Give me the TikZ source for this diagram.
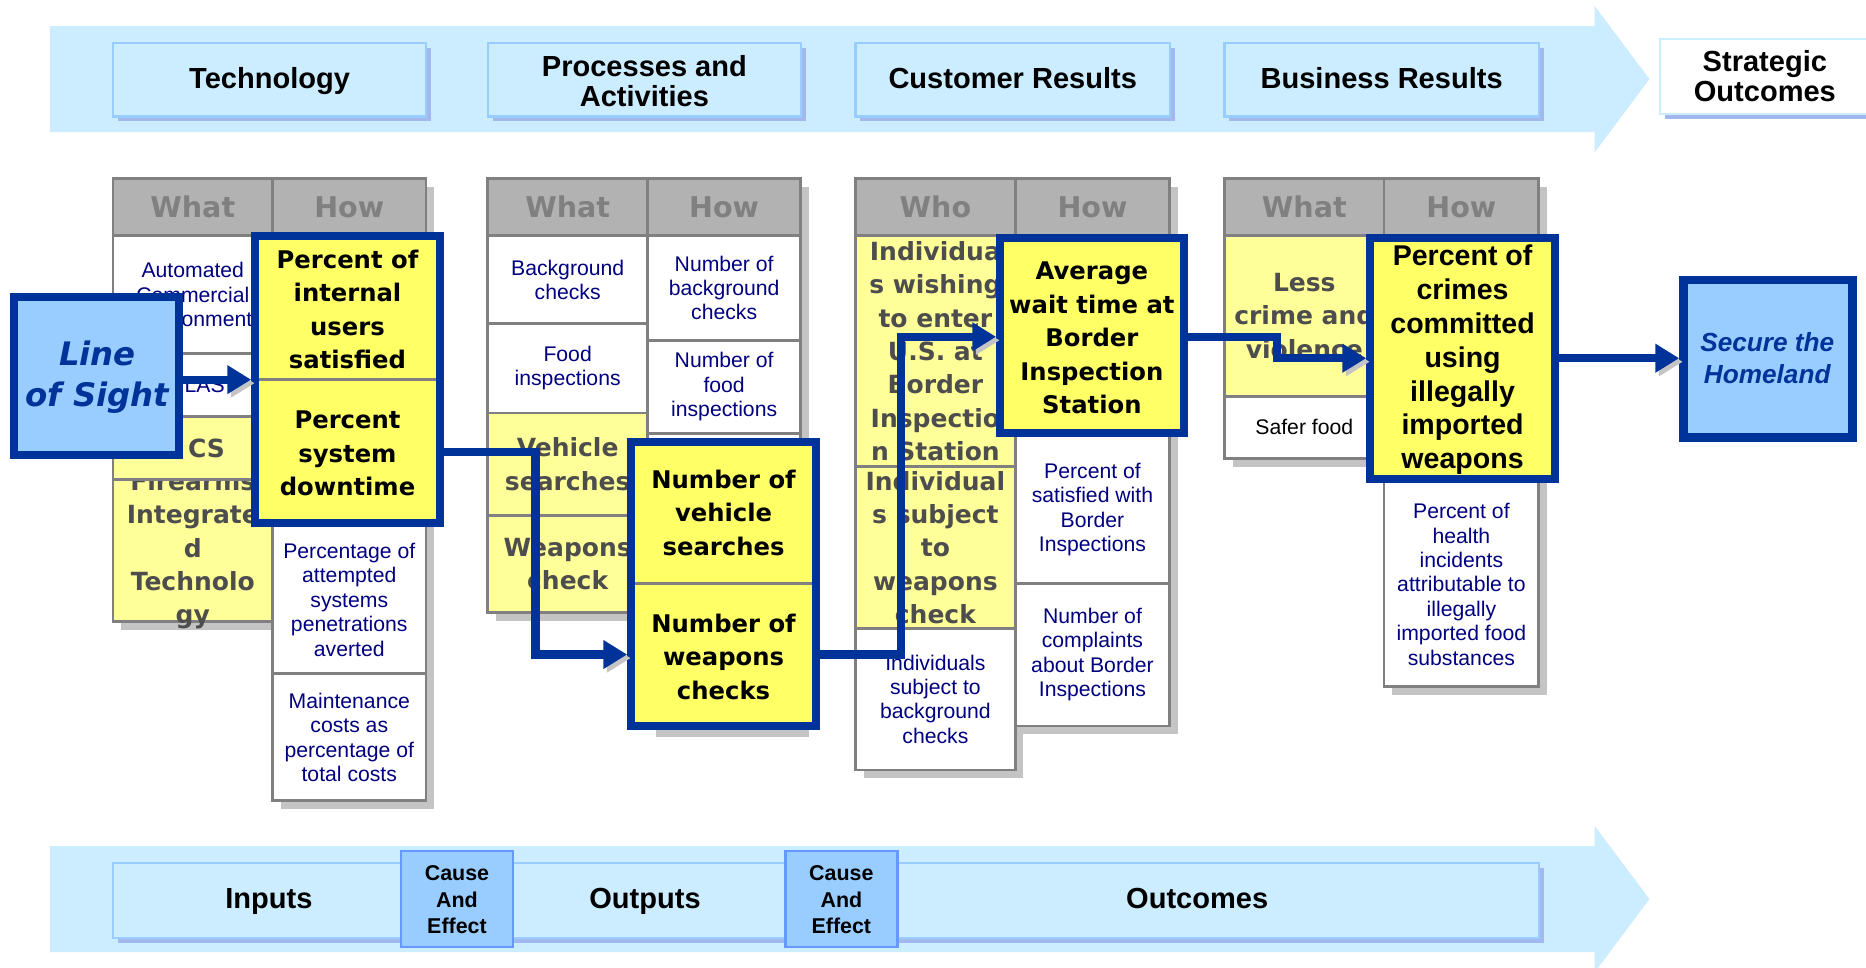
\documentclass[tikz,border=0pt]{standalone}
\usepackage{fontspec}
\setmainfont{Liberation Sans}
\newfontfamily\dv{DejaVu Sans}[BoldFont={DejaVu Sans Bold},BoldItalicFont={DejaVu Sans Bold Oblique},ItalicFont={DejaVu Sans Oblique}]
\usetikzlibrary{arrows.meta,calc,fit}
\definecolor{band}{HTML}{CCECFF}
\definecolor{bandline}{HTML}{99CCFF}
\definecolor{bandshadow}{HTML}{A3B8EE}
\definecolor{causefill}{HTML}{99CCFF}
\definecolor{causeline}{HTML}{6699FF}
\definecolor{grid}{HTML}{808080}
\definecolor{hdr}{HTML}{B2B2B2}
\definecolor{hdrtext}{HTML}{808080}
\definecolor{lightyel}{HTML}{FFFF99}
\definecolor{hiyel}{HTML}{FFFF66}
\definecolor{dblue}{HTML}{003399}
\definecolor{navy}{HTML}{000080}
\definecolor{graytext}{HTML}{4D4D4D}
\definecolor{shadowc}{HTML}{C4C4C4}
\definecolor{losfill}{HTML}{99CCFF}
\tikzset{
 smalltxt/.style={font=\fontsize{8.9}{10.25}\selectfont, text=navy, align=center, inner sep=0pt},
 bigtxt/.style={font=\dv\bfseries\fontsize{10.5}{14}\selectfont, text=graytext, align=center, inner sep=0pt},
 hltxt/.style={font=\dv\bfseries\fontsize{10.2}{14.1}\selectfont, align=center, inner sep=0pt},
 hdrtxt/.style={font=\dv\bfseries\fontsize{12}{14}\selectfont, text=hdrtext, inner sep=0pt},
 bandtxt/.style={font=\bfseries\fontsize{12.2}{12.6}\selectfont, align=center, inner sep=0pt},
 bandone/.style={font=\bfseries\fontsize{12.2}{12.6}\selectfont, inner sep=0pt, text height=8.8pt, text depth=2.6pt},
 causetxt/.style={font=\bfseries\fontsize{9}{11}\selectfont, align=center, inner sep=0pt},
 hl/.style={draw=dblue, line width=3.25pt, fill=hiyel, inner sep=0pt},
 bluebox/.style={draw=dblue, line width=3.5pt, fill=losfill, inner sep=0pt},
 conn/.style={draw=dblue, line width=3.4pt, -{Triangle[length=10pt,width=11.5pt]},
   preaction={draw=shadowc, transform canvas={shift={(1.5pt,-1.5pt)}}}},
 splitline/.style={draw=grid, line width=1.2pt},
 cellbox/.style={draw=grid, line width=1.2pt},
}
% cell: name, corner1, corner2, fill, text style, text
\newcommand{\mycell}[6]{%
  \path[cellbox,fill=#4] #2 rectangle #3;
  \node[#5] (#1) at ($#2!0.5!#3$) {#6};}
% band header box: name, x1,y1,x2,y2, text style, text
\newcommand{\bandbox}[7]{%
  \fill[bandshadow] ($(#2,#3)+(4,4)$) rectangle ($(#4,#5)+(4,4)$);
  \path[draw=bandline,line width=1pt,fill=band] (#2,#3) rectangle (#4,#5);
  \node[#6] (#1) at ($(#2,#3)!0.5!(#4,#5)+(0,1)$) {#7};}
\begin{document}
\begin{tikzpicture}[x=0.5pt,y=-0.5pt]
\useasboundingbox (0,0) rectangle (1568,813);
\fill[white] (0,0) rectangle (1568,813);
% ===== top band =====
\fill[band] (42,22) -- (1340,22) -- (1340,5) -- (1386,66.5) -- (1340,128) -- (1340,111) -- (42,111) -- cycle;
\bandbox{tech}{95}{36}{358}{98}{bandone}{Technology}
\bandbox{proc}{410}{36}{673}{98}{bandtxt}{Processes and\\Activities}
\bandbox{cust}{719}{36}{983}{98}{bandone}{Customer Results}
\bandbox{bus}{1029}{36}{1293}{98}{bandone}{Business Results}
\fill[bandshadow] (1399,37) rectangle (1600,100);
\path[draw=band,line width=1pt,fill=white] (1395,33) rectangle (1600,96);
\node[bandtxt] (strat) at (1483,64) {Strategic\\Outcomes};
% ===== bottom band =====
\fill[band] (42,711) -- (1340,711) -- (1340,694) -- (1386,755.5) -- (1340,817) -- (1340,800) -- (42,800) -- cycle;
\fill[bandshadow] (99,729) rectangle (1297,792);
\path[draw=bandline,line width=1pt,fill=band] (95,725) rectangle (1293,788);
\node[bandone] (inputs) at (226,757) {Inputs};
\node[bandone] (outputs) at (542,757) {Outputs};
\node[bandone] (outcomes) at (1006,757) {Outcomes};
\path[draw=causeline,line width=1pt,fill=causefill] (337,715) rectangle (431,796);
\node[causetxt] (cause1) at (384,756) {Cause\\And\\Effect};
\path[draw=causeline,line width=1pt,fill=causefill] (660,715) rectangle (754,796);
\node[causetxt] (cause2) at (707,756) {Cause\\And\\Effect};
% ===== table 1 =====
\fill[shadowc] (102,157) rectangle (236,529);
\fill[shadowc] (236,157) rectangle (365,680);
\mycell{t1w4}{(95,403)}{(229,522)}{lightyel}{bigtxt}{Firearms\\Integrate\\d\\Technolo\\gy}
\mycell{t1w3}{(95,350)}{(229,403)}{lightyel}{bigtxt,xshift=5.75pt}{CS}
\mycell{t1w2}{(95,297)}{(229,350)}{white}{smalltxt,xshift=5pt}{LAS}
\mycell{t1w1}{(95,198)}{(229,297)}{white}{smalltxt}{Automated\\Commercial\\Environment}
\mycell{t1h3}{(229,566)}{(358,673)}{white}{smalltxt}{Maintenance\\costs as\\percentage of\\total costs}
\mycell{t1h2}{(229,442)}{(358,566)}{white}{smalltxt}{Percentage of\\attempted\\systems\\penetrations\\averted}
\mycell{t1h1}{(229,198)}{(358,442)}{white}{}{}
\mycell{t1hw}{(95,150)}{(229,198)}{hdr}{hdrtxt}{What}
\mycell{t1hh}{(229,150)}{(358,198)}{hdr}{hdrtxt}{How}
% ===== table 2 =====
\fill[shadowc] (417,157) rectangle (551,522);
\fill[shadowc] (551,157) rectangle (680,619);
\mycell{t2w4}{(410,433)}{(544,515)}{lightyel}{bigtxt}{Weapons\\check}
\mycell{t2w3}{(410,347)}{(544,433)}{lightyel}{bigtxt}{Vehicle\\searches}
\mycell{t2w2}{(410,272)}{(544,347)}{white}{smalltxt}{Food\\inspections}
\mycell{t2w1}{(410,198)}{(544,272)}{white}{smalltxt}{Background\\checks}
\mycell{t2h3}{(544,364)}{(673,612)}{white}{}{}
\mycell{t2h2}{(544,286)}{(673,364)}{white}{smalltxt}{Number of\\food\\inspections}
\mycell{t2h1}{(544,198)}{(673,286)}{white}{smalltxt}{Number of\\background\\checks}
\mycell{t2hw}{(410,150)}{(544,198)}{hdr}{hdrtxt}{What}
\mycell{t2hh}{(544,150)}{(673,198)}{hdr}{hdrtxt}{How}
% ===== table 3 =====
\fill[shadowc] (726,157) rectangle (860,654);
\fill[shadowc] (860,157) rectangle (990,617);
\mycell{t3w3}{(719,528)}{(853,647)}{white}{smalltxt}{Individuals\\subject to\\background\\checks}
\mycell{t3w2}{(719,392)}{(853,528)}{lightyel}{bigtxt}{Individual\\s subject\\to\\weapons\\check}
\mycell{t3w1}{(719,198)}{(853,392)}{lightyel}{bigtxt}{Individua\\s wishing\\to enter\\U.S. at\\Border\\Inspectio\\n Station}
\mycell{t3h3}{(853,490)}{(983,610)}{white}{smalltxt}{Number of\\complaints\\about Border\\Inspections}
\mycell{t3h2}{(853,366)}{(983,490)}{white}{smalltxt}{Percent of\\satisfied with\\Border\\Inspections}
\mycell{t3h1}{(853,198)}{(983,366)}{white}{}{}
\mycell{t3hw}{(719,150)}{(853,198)}{hdr}{hdrtxt}{Who}
\mycell{t3hh}{(853,150)}{(983,198)}{hdr}{hdrtxt}{How}
% ===== table 4 =====
\fill[shadowc] (1036,157) rectangle (1170,392);
\fill[shadowc] (1170,157) rectangle (1300,584);
\mycell{t4w2}{(1029,333)}{(1163,385)}{white}{smalltxt,text=black}{Safer food}
\mycell{t4w1}{(1029,198)}{(1163,333)}{lightyel}{bigtxt}{Less\\crime and\\violence}
\mycell{t4h2}{(1163,405)}{(1293,577)}{white}{smalltxt}{Percent of\\health\\incidents\\attributable to\\illegally\\imported food\\substances}
\mycell{t4h1}{(1163,198)}{(1293,405)}{white}{}{}
\mycell{t4hw}{(1029,150)}{(1163,198)}{hdr}{hdrtxt}{What}
\mycell{t4hh}{(1163,150)}{(1293,198)}{hdr}{hdrtxt}{How}
% ===== Line of Sight =====
\node[bluebox, fit={(11.5,249.5) (150.5,382.5)}] (los) {};
\node[font=\dv\bfseries\itshape\fontsize{13.6}{17.5}\selectfont, text=dblue, align=center, inner sep=0pt] (lost) at (82,317) {Line\\of Sight};
% ===== highlights =====
\node[hl, fit={(214.25,198.25) (369.75,439.75)}] (h1) {};
\draw[splitline] (217.5,319) -- (366.5,319);
\node[hltxt] (h1a) at (292,260) {Percent of\\internal\\users\\satisfied};
\node[hltxt] (h1b) at (292,381) {Percent\\system\\downtime};
\node[hl, fit={(530.25,371.25) (685.75,609.75)}] (h2) {};
\draw[splitline] (533.5,490) -- (682.5,490);
\node[hltxt] (h2a) at (608,431) {Number of\\vehicle\\searches};
\node[hltxt] (h2b) at (608,552) {Number of\\weapons\\checks};
\node[hl, fit={(840.25,200.25) (994.75,363.75)}] (h3) {};
\node[hltxt] (h3a) at (917.5,284) {Average\\wait time at\\Border\\Inspection\\Station};
\node[hl, fit={(1151.25,200.25) (1306.75,402.75)}] (h4) {};
\node[font=\bfseries\fontsize{12}{14.2}\selectfont, align=center, inner sep=0pt] (h4a) at (1229,302.5) {Percent of\\crimes\\committed\\using\\illegally\\imported\\weapons};
% ===== Secure the Homeland =====
\node[bluebox, fit={(1414.5,235.5) (1556.5,367.5)}] (sec) {};
\node[font=\bfseries\itshape\fontsize{11}{13.5}\selectfont, text=dblue, align=center, inner sep=0pt] (sect) at (1485,301) {Secure the\\Homeland};
% ===== connectors =====
\coordinate (a1) at (0,319);
\draw[conn] (los.east |- a1) -- (h1.west |- a1);
\coordinate (a2) at (450,380);
\coordinate (a2b) at (450,550);
\draw[conn] (h1.east |- a2) -- (a2) -- (a2b) -- (h2.west |- a2b);
\coordinate (a3) at (757,550);
\coordinate (a3b) at (757,283);
\draw[conn] (h2.east |- a3) -- (a3) -- (a3b) -- (h3.west |- a3b);
\coordinate (a4) at (1073,283);
\coordinate (a4b) at (1073,301);
\draw[conn] (h3.east |- a4) -- (a4) -- (a4b) -- (h4.west |- a4b);
\coordinate (a5) at (0,301);
\draw[conn] (h4.east |- a5) -- (sec.west |- a5);
\end{tikzpicture}
\end{document}
